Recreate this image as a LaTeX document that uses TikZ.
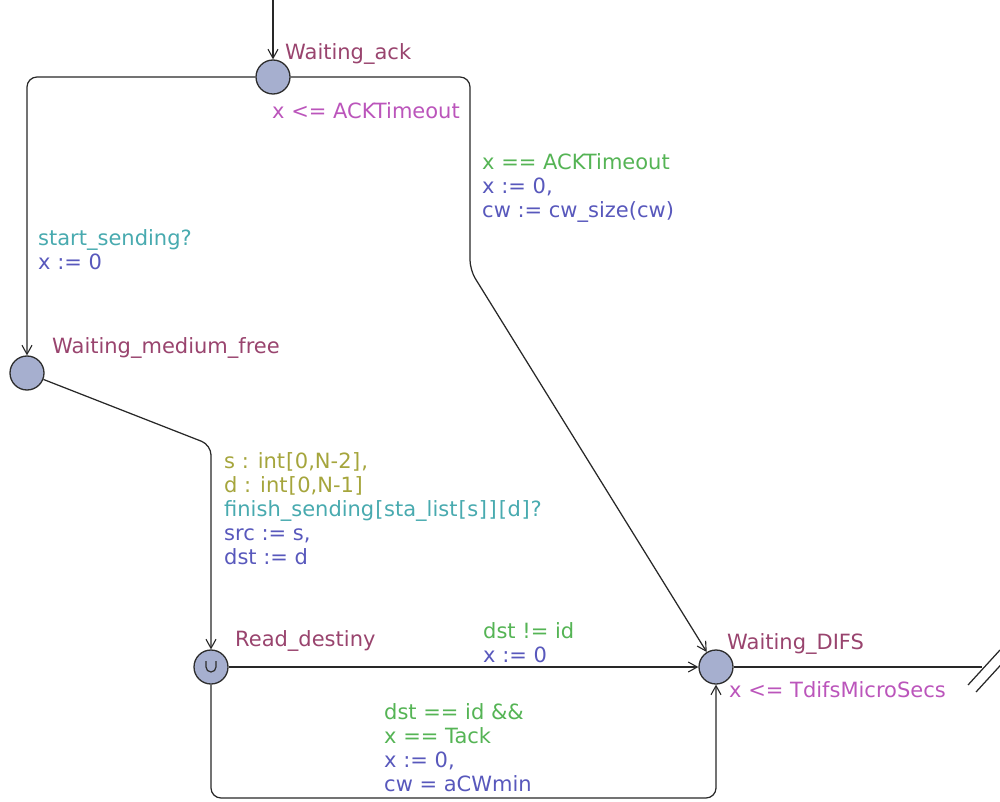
\documentclass[tikz,border=0pt]{standalone}
\usepackage{fontspec}
\setmainfont{DejaVu Sans}
\usetikzlibrary{arrows.meta}
\definecolor{locfill}{RGB}{166,175,207}
\definecolor{locline}{RGB}{45,45,45}
\definecolor{edgeline}{RGB}{40,40,40}
\definecolor{namecol}{RGB}{153,68,110}
\definecolor{invcol}{RGB}{187,85,187}
\definecolor{guardcol}{RGB}{85,180,85}
\definecolor{synccol}{RGB}{72,170,175}
\definecolor{updcol}{RGB}{88,88,188}
\definecolor{selcol}{RGB}{165,165,60}
% spaced brackets for channel indices
\newcommand{\lbk}{\kern1pt[\kern0.6pt}
\newcommand{\rbk}{\kern0.6pt]\kern1pt}
\begin{document}
\begin{tikzpicture}[x=1pt,y=-1pt,
  loc/.style={circle,draw=locline,line width=1.3pt,fill=locfill,minimum size=34pt,inner sep=0pt},
  lbl/.style={anchor=base west,inner sep=0pt,font=\fontsize{21}{24}\selectfont},
  locname/.style={lbl,text=namecol},
  inv/.style={lbl,text=invcol},
  guard/.style={lbl,text=guardcol},
  sync/.style={lbl,text=synccol},
  upd/.style={lbl,text=updcol},
  sel/.style={lbl,text=selcol},
  trans/.style={draw=edgeline,line width=1.25pt,rounded corners=10pt,
    -{Straight Barb[length=9pt,width=10pt,line width=1.1pt]}},
  plain/.style={draw=edgeline,line width=1.25pt},
]
\useasboundingbox (0,0) rectangle (1000,802);

% locations
\node[loc] (wa)  at (273,77)  {};
\node[loc] (wmf) at (27,373)  {};
\node[loc] (rd)  at (211,667) {};
\node[loc] (wd)  at (716,667) {};

% urgent mark on Read_destiny
\draw[locline,line width=1.2pt] (rd.center) ++(-5,-6) -- ++(0,6)
  arc[start angle=180,end angle=0,radius=5] -- ++(0,-6);

% location names and invariants
\node[locname] (nwa)  at (285,60)  {Waiting\_ack};
\node[inv]     (iwa)  at (272,119) {x <= ACKTimeout};
\node[locname] (nwmf) at (52,353)  {Waiting\_medium\_free};
\node[locname] (nrd)  at (235,646) {Read\_destiny};
\node[locname] (nwd)  at (727,649) {Waiting\_DIFS};
\node[inv]     (iwd)  at (729,697) {x <= TdifsMicroSecs};

% bend points
\coordinate (init) at (273,0);
\coordinate (c1) at (470,77);
\coordinate (c2) at (470,270);
\coordinate (c3) at (211,445);
\coordinate (c4) at (211,798);
\coordinate (exit) at (982,667);

% transitions
\draw[trans] (init) -- (wa);
\draw[trans] (wa) -| (wmf);
\draw[trans] (wa) -- (c1) -- (c2) -- (wd);
\draw[trans] (wmf) -- (c3) -- (rd);
\draw[trans] (rd) -- (wd);
\draw[trans] (rd) -- (c4) -| (wd);
\draw[plain] (wd) -- (exit);
\draw[plain] (968,685) -- (1000,650);
\draw[plain] (976,692) -- (1008,657);

% labels: Waiting_ack -> Waiting_DIFS
\node[guard] (g1)  at (482,170) {x == ACKTimeout};
\node[upd]   (u1a) at (482,194) {x := 0,};
\node[upd]   (u1b) at (482,218) {cw := cw\_size(cw)};

% labels: Waiting_ack -> Waiting_medium_free
\node[sync] (s2) at (38,245) {start\_sending?};
\node[upd]  (u2) at (38,269) {x := 0};

% labels: Waiting_medium_free -> Read_destiny
\node[sel]  (se3a) at (224,468) {s : int\lbk 0,N-2\rbk,};
\node[sel]  (se3b) at (224,492) {d : int\lbk 0,N-1\rbk};
\node[sync] (s3)   at (224,516) {finish\_sending\lbk sta\_list\lbk s\rbk\rbk\lbk d\rbk?};
\node[upd]  (u3a)  at (224,540) {src := s,};
\node[upd]  (u3b)  at (224,564) {dst := d};

% labels: Read_destiny -> Waiting_DIFS (direct)
\node[guard] (g4) at (483,638) {dst != id};
\node[upd]   (u4) at (483,662) {x := 0};

% labels: Read_destiny -> Waiting_DIFS (lower path)
\node[guard] (g5a) at (384,719) {dst == id \&\&};
\node[guard] (g5b) at (384,743) {x == Tack};
\node[upd]   (u5a) at (384,767) {x := 0,};
\node[upd]   (u5b) at (384,791) {cw = aCWmin};
\end{tikzpicture}
\end{document}
